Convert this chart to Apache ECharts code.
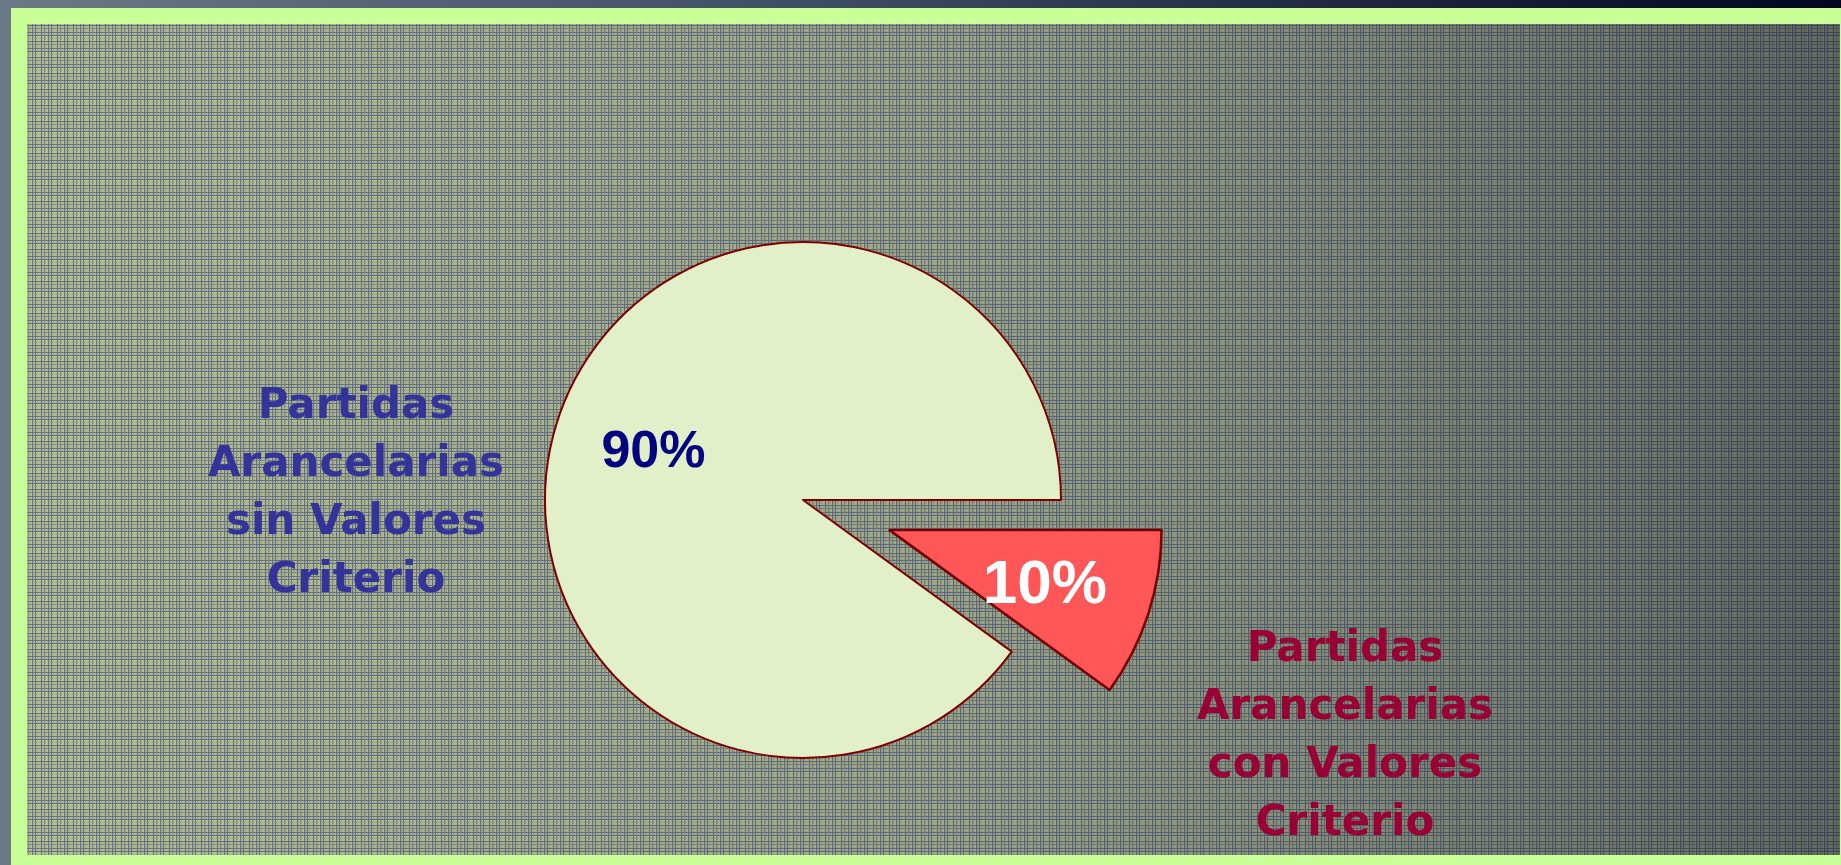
<!DOCTYPE html>
<html>
<head>
<meta charset="utf-8">
<script src="https://cdn.jsdelivr.net/npm/echarts@6/dist/echarts.min.js"></script>
<style>
html,body{margin:0;padding:0;background:#000;}
#c{width:1841px;height:865px;}
</style>
</head>
<body>
<div id="c"></div>
<script>
// ---- data ----
const categories = [
  'Partidas\nArancelarias\ncon Valores\nCriterio',
  'Partidas\nArancelarias\nsin Valores\nCriterio'
];
const values = [10, 90];

// ---- plaid background tile ----
function makeTile() {
  const t = document.createElement('canvas');
  t.width = 16; t.height = 16;
  const g = t.getContext('2d');
  g.fillStyle = '#c0c88e';
  g.fillRect(0, 0, 16, 16);
  g.fillStyle = '#a3ad92';
  for (let y = 0; y < 16; y++) for (let x = 0; x < 16; x++) {
    if ((x + y) % 2 === 0 && (x % 4 === 1 || y % 4 === 2)) g.fillRect(x, y, 1, 1);
  }
  g.fillStyle = '#67758b';
  [0, 3, 9].forEach(p => { g.fillRect(p, 0, 1, 16); g.fillRect(0, p, 16, 1); });
  g.fillStyle = '#7d8a92';
  [12].forEach(p => { g.fillRect(p, 0, 1, 16); g.fillRect(0, p, 16, 1); });
  return t;
}
const tile = makeTile();

const chart = echarts.init(document.getElementById('c'), null, {renderer: 'canvas'});

const pctFont = '"Liberation Sans", Arial, sans-serif';
const catFont = '"Comic Sans MS", "DejaVu Sans", sans-serif';

const option = {
  animation: false,
  backgroundColor: {
    type: 'linear', x: 0, y: 0, x2: 1, y2: 0,
    colorStops: [
      {offset: 0, color: '#6a7a86'},
      {offset: 0.45, color: '#3e4e62'},
      {offset: 1, color: '#00061e'}
    ]
  },
  graphic: [
    {type: 'rect', z: 0, silent: true, shape: {x: 11, y: 8, width: 1830, height: 857}, style: {fill: '#c8ff96'}},
    {type: 'rect', z: 1, silent: true, shape: {x: 27, y: 24, width: 1813, height: 831}, style: {fill: {image: tile, repeat: 'repeat'}}},
    {type: 'rect', z: 1, silent: true, shape: {x: 27, y: 24, width: 1813, height: 831},
      style: {fill: {type: 'linear', x: 0, y: 0, x2: 1, y2: 0, colorStops: [
        {offset: 0, color: 'rgba(40,50,60,0.04)'},
        {offset: 0.5, color: 'rgba(30,38,55,0.18)'},
        {offset: 1, color: 'rgba(15,20,40,0.5)'}
      ]}}},
    {type: 'text', z: 100, silent: true,
      style: {text: categories[1], x: 356, y: 494, align: 'center', verticalAlign: 'middle',
        fontSize: 42, fontWeight: 'bold', fontFamily: catFont, lineHeight: 58, fill: '#333399'}},
    {type: 'text', z: 100, silent: true,
      style: {text: categories[0], x: 1345, y: 737, align: 'center', verticalAlign: 'middle',
        fontSize: 42, fontWeight: 'bold', fontFamily: catFont, lineHeight: 58, fill: '#990033'}}
  ],
  series: [
    {
      type: 'pie', name: 'sin', z: 2,
      center: [803, 500], radius: 258, startAngle: 0, clockwise: true,
      silent: true, emphasis: {disabled: true},
      label: {position: 'inside', formatter: '{d}%', fontSize: 52, fontWeight: 'bold',
        fontFamily: pctFont, color: '#000080'},
      labelLine: {show: false},
      labelLayout: function (p) { return {dx: -24, dy: -7}; },
      data: values.map((v, i) => ({
        name: categories[i], value: v,
        itemStyle: i === 1 ? {color: '#e2f0c9', borderColor: '#800000', borderWidth: 2}
                           : {color: 'transparent', borderWidth: 0},
        label: {show: i === 1}
      }))
    },
    {
      type: 'pie', name: 'con', z: 3,
      center: [803, 502], radius: 272, startAngle: 0, clockwise: true,
      selectedMode: 'single', selectedOffset: 91,
      silent: true, emphasis: {disabled: true},
      label: {position: 'inside', formatter: '{d}%', fontSize: 62, fontWeight: 'bold',
        fontFamily: pctFont, color: '#ffffff'},
      labelLine: {show: false},
      labelLayout: function (p) { return {dx: 23, dy: 13}; },
      data: values.map((v, i) => ({
        name: categories[i], value: v, selected: i === 0,
        itemStyle: i === 0 ? {color: '#ff5757', borderColor: '#7a0000', borderWidth: 2.5}
                           : {color: 'transparent', borderWidth: 0},
        label: {show: i === 0}
      }))
    }
  ]
};
chart.setOption(option);
</script>
</body>
</html>
